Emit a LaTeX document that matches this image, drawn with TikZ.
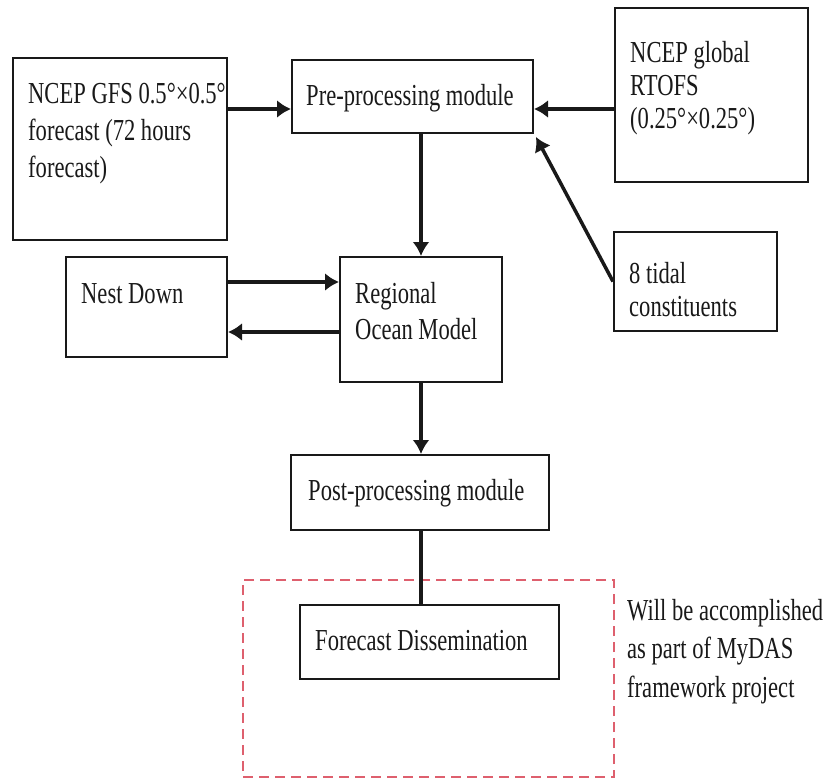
\documentclass[tikz,border=0pt]{standalone}
\usepackage{fontspec}
\setmainfont{Liberation Serif}[FakeStretch=0.74]
\usetikzlibrary{arrows.meta}
\newcommand\mlines[1]{\begin{tabular}[t]{@{}l@{}}#1\end{tabular}}
\definecolor{dashred}{RGB}{222,96,110}
\definecolor{inkc}{RGB}{25,25,25}
\tikzset{
  box/.style={draw=inkc, line width=2pt, inner sep=0pt, fill=white},
  txt/.style={anchor=base west, inner sep=0pt, text=inkc, font=\fontsize{30.5}{37}\selectfont},
  arr/.style={draw=inkc, line width=4.5pt, -{Latex[length=14pt,width=18pt]}},
  varr/.style={draw=inkc, line width=3.5pt, -{Latex[length=14pt,width=17pt]}},
  plainline/.style={draw=inkc, line width=3.5pt},
  redbox/.style={draw=dashred, line width=2pt, dash pattern=on 10pt off 6pt, inner sep=0pt}
}
\begin{document}
\begin{tikzpicture}[x=1pt,y=-1pt]
\useasboundingbox[fill=white] (0,0) rectangle (826,780);
% boxes
\node[box, minimum width=214pt, minimum height=182pt] (gfs) at (120,149) {};
\node[box, minimum width=241pt, minimum height=73pt] (pre) at (412.5,96.5) {};
\node[box, minimum width=193pt, minimum height=174pt] (rtofs) at (711.5,95) {};
\node[box, minimum width=163pt, minimum height=99pt] (tidal) at (695.5,281.5) {};
\node[box, minimum width=161pt, minimum height=100pt] (nest) at (146.5,307) {};
\node[box, minimum width=162pt, minimum height=125pt] (reg) at (421,319.5) {};
\node[box, minimum width=258pt, minimum height=75pt] (post) at (420,492.5) {};
\node[redbox, minimum width=371pt, minimum height=197pt] (red) at (428.5,678.5) {};
\node[box, minimum width=259pt, minimum height=74pt] (fc) at (429.5,642) {};
% texts
\node[txt] (gfst) at (28,103) {\mlines{NCEP GFS 0.5°×0.5°\\forecast (72 hours\\forecast)}};
\node[txt] (pret) at (306,105) {Pre-processing module};
\node[txt, font=\fontsize{30.5}{33}\selectfont] (rtofst) at (630,62) {\mlines{NCEP global\\RTOFS\\(0.25°×0.25°)}};
\node[txt, font=\fontsize{30.5}{33}\selectfont] (tidalt) at (629,283) {\mlines{8 tidal\\constituents}};
\node[txt] (nestt) at (81,303) {Nest Down};
\node[txt, font=\fontsize{30.5}{36}\selectfont] (regt) at (355,303) {\mlines{Regional\\Ocean Model}};
\node[txt] (postt) at (308,500) {Post-processing module};
\node[txt] (fct) at (315,650) {Forecast Dissemination};
\node[txt, font=\fontsize{30.5}{38.5}\selectfont] (willt) at (627,620) {\mlines{Will be accomplished\\as part of MyDAS\\framework project}};
% connectors
\draw[arr] ([yshift=-12.5pt]pre.west -| gfs.east) -- ([yshift=-12.5pt]pre.west);
\draw[arr] ([yshift=-12.5pt]pre.east -| rtofs.west) -- ([yshift=-12.5pt]pre.east);
\draw[arr, line width=3.5pt] (tidal.west) -- ([shift={(2pt,-3pt)}]pre.south east);
\draw[varr] (pre.south -| reg.north) -- (reg.north);
\draw[arr] ([yshift=25pt]nest.east) -- ([yshift=25pt]nest.east -| reg.west);
\draw[arr] ([yshift=-25pt]nest.east -| reg.west) -- ([yshift=-25pt]nest.east);
\draw[varr] (reg.south) -- (reg.south |- post.north);
\draw[plainline] (reg.south |- post.south) -- (reg.south |- fc.north);
\end{tikzpicture}
\end{document}
